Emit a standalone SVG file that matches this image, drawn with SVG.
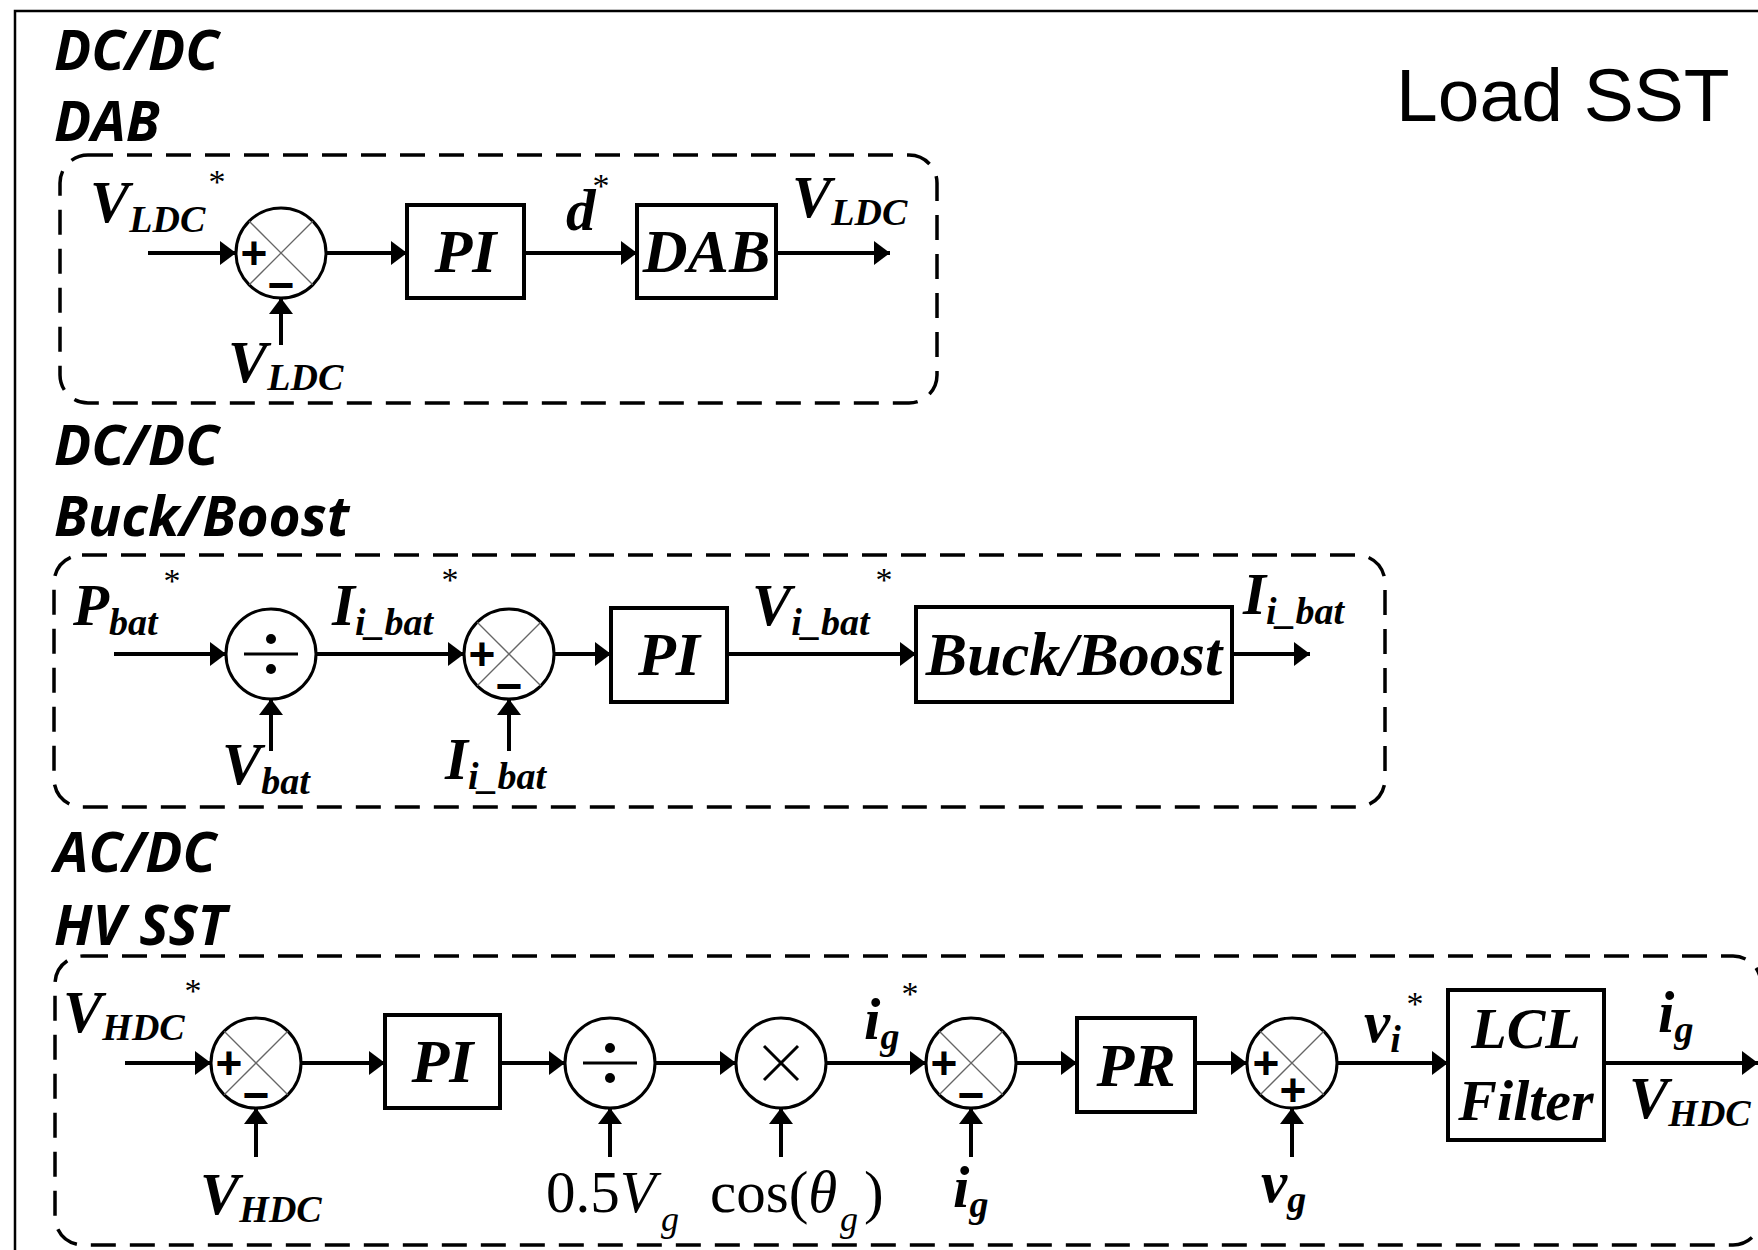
<svg xmlns="http://www.w3.org/2000/svg" width="1758" height="1250" viewBox="0 0 1758 1250">
<defs>
<style>
.conn line{stroke:#000;stroke-width:4;fill:none}
.blk{fill:#fff;stroke:#000;stroke-width:4}
.sum{fill:#fff;stroke:#000;stroke-width:3}
.xl{stroke:#666;stroke-width:1.3}
.op{stroke:#000;stroke-width:3;fill:none}
.dash{fill:none;stroke:#000;stroke-width:3.5;stroke-dasharray:25 14}
.lbl{font-family:"Liberation Serif","Times New Roman",serif;font-weight:bold;font-style:italic;font-size:59px;fill:#000}
.sub{font-size:38px}
.star{font-family:"Liberation Serif","Times New Roman",serif;font-weight:normal;font-style:normal;font-size:34px;text-anchor:middle}
.reg{font-family:"Liberation Serif","Times New Roman",serif;font-size:59px;fill:#000}
.it{font-style:italic}
.rsub{font-family:"Liberation Serif","Times New Roman",serif;font-style:italic;font-size:36px;fill:#000}
.bt{font-family:"Liberation Serif","Times New Roman",serif;font-weight:bold;font-style:italic;font-size:62px;text-anchor:middle}
.bt2{font-family:"Liberation Serif","Times New Roman",serif;font-weight:bold;font-style:italic;font-size:58px;text-anchor:middle}
.head{font-family:"Open Sans","Noto Sans",sans-serif;font-weight:bold;font-style:italic;font-size:55px}
.sign{font-family:"Liberation Sans",Arial,sans-serif;font-weight:bold;font-size:46px;text-anchor:middle}
</style>
<marker id="ah" markerUnits="userSpaceOnUse" markerWidth="17" markerHeight="26" viewBox="0 -13 17 26" refX="16" refY="0" orient="auto">
<path d="M0,-12 L16,0 L0,12 z" fill="#000"/>
</marker>
</defs>
<rect width="1758" height="1250" fill="#fff"/>
<path d="M15,1250 L15,11 L1758,11" fill="none" stroke="#000" stroke-width="2.5"/>

<g id="titles">
<text class="head" x="54" y="70">DC/DC</text>
<text class="head" x="54" y="141">DAB</text>
<text class="head" x="54" y="465">DC/DC</text>
<text class="head" x="54" y="536">Buck/Boost</text>
<text class="head" x="54" y="872">AC/DC</text>
<text class="head" x="54" y="945">HV SST</text>
<text x="1396" y="121" font-family="Liberation Sans, Arial, sans-serif" font-size="75">Load SST</text>
</g>

<g id="groups">
<rect id="box-dab" class="dash" x="60" y="155" width="877" height="248" rx="28"/>
<rect id="box-buck" class="dash" x="54" y="555" width="1331" height="252" rx="28"/>
<rect id="box-hv" class="dash" x="55" y="956" width="1706" height="289" rx="28"/>
</g>

<g id="connectors" class="conn">
<line x1="148" y1="253" x2="236" y2="253" marker-end="url(#ah)"/>
<line x1="326" y1="253" x2="407" y2="253" marker-end="url(#ah)"/>
<line x1="524" y1="253" x2="637" y2="253" marker-end="url(#ah)"/>
<line x1="776" y1="253" x2="890" y2="253" marker-end="url(#ah)"/>
<line x1="281" y1="345" x2="281" y2="298" marker-end="url(#ah)"/>

<line x1="114" y1="654" x2="226" y2="654" marker-end="url(#ah)"/>
<line x1="316" y1="654" x2="464" y2="654" marker-end="url(#ah)"/>
<line x1="554" y1="654" x2="611" y2="654" marker-end="url(#ah)"/>
<line x1="727" y1="654" x2="916" y2="654" marker-end="url(#ah)"/>
<line x1="1232" y1="654" x2="1310" y2="654" marker-end="url(#ah)"/>
<line x1="271" y1="751" x2="271" y2="699" marker-end="url(#ah)"/>
<line x1="509" y1="751" x2="509" y2="699" marker-end="url(#ah)"/>

<line x1="125" y1="1063" x2="211" y2="1063" marker-end="url(#ah)"/>
<line x1="301" y1="1063" x2="385" y2="1063" marker-end="url(#ah)"/>
<line x1="500" y1="1063" x2="565" y2="1063" marker-end="url(#ah)"/>
<line x1="655" y1="1063" x2="736" y2="1063" marker-end="url(#ah)"/>
<line x1="826" y1="1063" x2="926" y2="1063" marker-end="url(#ah)"/>
<line x1="1016" y1="1063" x2="1077" y2="1063" marker-end="url(#ah)"/>
<line x1="1195" y1="1063" x2="1247" y2="1063" marker-end="url(#ah)"/>
<line x1="1337" y1="1063" x2="1448" y2="1063" marker-end="url(#ah)"/>
<line x1="1604" y1="1063" x2="1758" y2="1063" marker-end="url(#ah)"/>
<line x1="256" y1="1157" x2="256" y2="1108" marker-end="url(#ah)"/>
<line x1="610" y1="1157" x2="610" y2="1108" marker-end="url(#ah)"/>
<line x1="781" y1="1157" x2="781" y2="1108" marker-end="url(#ah)"/>
<line x1="971" y1="1157" x2="971" y2="1108" marker-end="url(#ah)"/>
<line x1="1292" y1="1157" x2="1292" y2="1108" marker-end="url(#ah)"/>
</g>

<!-- Row 1 -->
<g id="sum-dab">
<circle class="sum" cx="281" cy="253" r="45"/>
<line class="xl" x1="249.2" y1="221.2" x2="312.8" y2="284.8"/>
<line class="xl" x1="312.8" y1="221.2" x2="249.2" y2="284.8"/>
<text class="sign" x="254" y="269">+</text>
<text class="sign" x="281" y="301">−</text>
</g>
<g id="pi-dab"><rect class="blk" x="407" y="205" width="117" height="93"/><text class="bt" x="465.5" y="272">PI</text></g>
<g id="dab"><rect class="blk" x="637" y="205" width="139" height="93"/><text class="bt" x="706.5" y="272">DAB</text></g>

<!-- Row 2 -->
<g id="div-buck">
<circle class="sum" cx="271" cy="654" r="45"/>
<line class="op" x1="244" y1="654" x2="298" y2="654"/>
<circle cx="271" cy="639" r="5"/><circle cx="271" cy="669" r="5"/>
</g>
<g id="sum-buck">
<circle class="sum" cx="509" cy="654" r="45"/>
<line class="xl" x1="477.2" y1="622.2" x2="540.8" y2="685.8"/>
<line class="xl" x1="540.8" y1="622.2" x2="477.2" y2="685.8"/>
<text class="sign" x="482" y="670">+</text>
<text class="sign" x="509" y="702">−</text>
</g>
<g id="pi-buck"><rect class="blk" x="611" y="608" width="116" height="94"/><text class="bt" x="669" y="675">PI</text></g>
<g id="buckboost"><rect class="blk" x="916" y="607" width="316" height="95"/><text class="bt" x="1074" y="675">Buck/Boost</text></g>

<!-- Row 3 -->
<g id="sum-hv1">
<circle class="sum" cx="256" cy="1063" r="45"/>
<line class="xl" x1="224.2" y1="1031.2" x2="287.8" y2="1094.8"/>
<line class="xl" x1="287.8" y1="1031.2" x2="224.2" y2="1094.8"/>
<text class="sign" x="229" y="1079">+</text>
<text class="sign" x="256" y="1111">−</text>
</g>
<g id="pi-hv"><rect class="blk" x="385" y="1015" width="115" height="93"/><text class="bt" x="442.5" y="1082">PI</text></g>
<g id="div-hv">
<circle class="sum" cx="610" cy="1063" r="45"/>
<line class="op" x1="583" y1="1063" x2="637" y2="1063"/>
<circle cx="610" cy="1048" r="5"/><circle cx="610" cy="1078" r="5"/>
</g>
<g id="mul-hv">
<circle class="sum" cx="781" cy="1063" r="45"/>
<line class="op" x1="764" y1="1046" x2="798" y2="1080"/>
<line class="op" x1="798" y1="1046" x2="764" y2="1080"/>
</g>
<g id="sum-hv2">
<circle class="sum" cx="971" cy="1063" r="45"/>
<line class="xl" x1="939.2" y1="1031.2" x2="1002.8" y2="1094.8"/>
<line class="xl" x1="1002.8" y1="1031.2" x2="939.2" y2="1094.8"/>
<text class="sign" x="944" y="1079">+</text>
<text class="sign" x="971" y="1111">−</text>
</g>
<g id="pr"><rect class="blk" x="1077" y="1018" width="118" height="94"/><text class="bt" x="1136" y="1086">PR</text></g>
<g id="sum-hv3">
<circle class="sum" cx="1292" cy="1063" r="45"/>
<line class="xl" x1="1260.2" y1="1031.2" x2="1323.8" y2="1094.8"/>
<line class="xl" x1="1323.8" y1="1031.2" x2="1260.2" y2="1094.8"/>
<text class="sign" x="1266" y="1079">+</text>
<text class="sign" x="1293" y="1106">+</text>
</g>
<g id="lcl"><rect class="blk" x="1448" y="990" width="156" height="150"/>
<text class="bt2" x="1526" y="1048">LCL</text>
<text class="bt2" x="1526" y="1120">Filter</text></g>

<g id="labels">
<text class="lbl" x="90" y="222">V<tspan class="sub" y="232">LDC</tspan></text>
<text class="star" x="217" y="193">*</text>
<text class="lbl" x="566" y="230">d</text>
<text class="star" x="601" y="197">*</text>
<text class="lbl" x="792" y="217">V<tspan class="sub" y="225">LDC</tspan></text>
<text class="lbl" x="228" y="382">V<tspan class="sub" y="390">LDC</tspan></text>

<text class="lbl" x="73" y="625">P<tspan class="sub" y="635">bat</tspan></text>
<text class="star" x="172" y="592">*</text>
<text class="lbl" x="332" y="625">I<tspan class="sub" y="635">i_bat</tspan></text>
<text class="star" x="450" y="591">*</text>
<text class="lbl" x="752" y="625">V<tspan class="sub" y="635">i_bat</tspan></text>
<text class="star" x="884" y="591">*</text>
<text class="lbl" x="1243" y="614">I<tspan class="sub" y="624">i_bat</tspan></text>
<text class="lbl" x="222" y="784">V<tspan class="sub" y="794">bat</tspan></text>
<text class="lbl" x="445" y="779">I<tspan class="sub" y="789">i_bat</tspan></text>

<text class="lbl" x="63" y="1032">V<tspan class="sub" y="1040">HDC</tspan></text>
<text class="star" x="193" y="1002">*</text>
<text class="lbl" x="200" y="1214">V<tspan class="sub" y="1222">HDC</tspan></text>
<text class="reg" x="546" y="1212">0.5<tspan class="it">V</tspan></text>
<text class="rsub" x="661" y="1231">g</text>
<text class="reg" x="710" y="1212">cos(<tspan class="it">θ</tspan></text>
<text class="rsub" x="840" y="1231">g</text>
<text class="reg" x="864" y="1212">)</text>
<text class="lbl" x="864" y="1039">i<tspan class="sub" y="1049">g</tspan></text>
<text class="star" x="910" y="1005">*</text>
<text class="lbl" x="953" y="1207">i<tspan class="sub" y="1217">g</tspan></text>
<text class="lbl" x="1261" y="1202">v<tspan class="sub" y="1212">g</tspan></text>
<text class="lbl" x="1364" y="1042">v<tspan class="sub" y="1052">i</tspan></text>
<text class="star" x="1415" y="1015">*</text>
<text class="lbl" x="1658" y="1032">i<tspan class="sub" y="1042">g</tspan></text>
<text class="lbl" x="1629" y="1118">V<tspan class="sub" y="1126">HDC</tspan></text>
</g>
</svg>
